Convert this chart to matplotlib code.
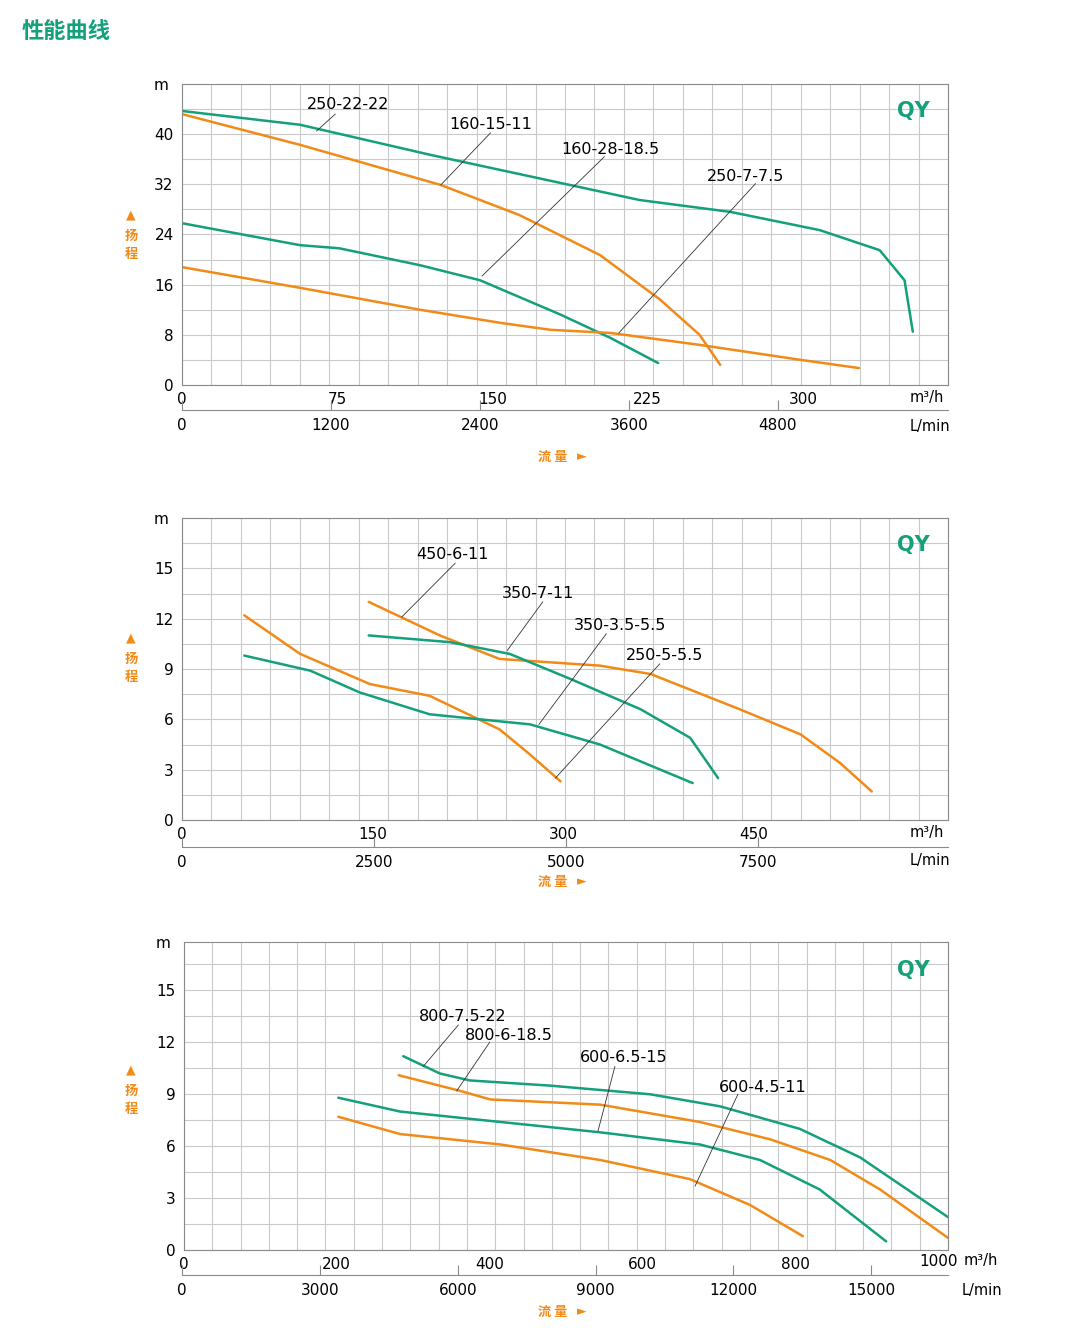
import matplotlib
matplotlib.use("Agg")
import matplotlib.pyplot as plt
import numpy as np

GREEN = "#13a07b"
ORANGE = "#f28a17"
plt.rcParams.update({"font.family": ["DejaVu Sans", "Noto Sans CJK SC"], "font.size": 10})

# ---- chart 1 data (m3/h, m)
c1_250_22_22_x = [0, 57, 120, 221, 265, 308, 337, 349, 353]
c1_250_22_22_y = [43.7, 41.5, 36.7, 29.5, 27.6, 24.7, 21.5, 16.7, 8.5]
c1_160_15_11_x = [0, 57, 125, 163, 202, 231, 250, 260]
c1_160_15_11_y = [43.2, 38.3, 31.9, 27.1, 20.7, 13.6, 8.0, 3.2]
c1_160_28_18_x = [0, 57, 76, 115, 144, 183, 207, 230]
c1_160_28_18_y = [25.8, 22.3, 21.8, 19.1, 16.7, 11.2, 7.5, 3.5]
c1_250_7_7_x = [0, 57, 115, 154, 178, 207, 250, 299, 327]
c1_250_7_7_y = [18.8, 15.5, 12.0, 9.9, 8.8, 8.3, 6.4, 4.0, 2.7]

# ---- chart 2 data
c2_250_5_x = [49, 93, 148, 195, 250, 274, 298]
c2_250_5_y = [12.2, 9.9, 8.1, 7.4, 5.4, 3.9, 2.3]
c2_350_35_x = [49, 101, 140, 195, 274, 329, 402]
c2_350_35_y = [9.8, 8.9, 7.6, 6.3, 5.7, 4.5, 2.2]
c2_450_6_x = [147, 203, 250, 329, 369, 439, 487, 518, 543]
c2_450_6_y = [13.0, 11.0, 9.6, 9.2, 8.7, 6.6, 5.1, 3.4, 1.7]
c2_350_7_x = [147, 211, 258, 306, 361, 400, 422]
c2_350_7_y = [11.0, 10.6, 9.9, 8.4, 6.6, 4.9, 2.5]

# ---- chart 3 data
c3_800_75_x = [287, 335, 374, 479, 610, 702, 806, 885, 1000]
c3_800_75_y = [11.2, 10.2, 9.8, 9.5, 9.0, 8.3, 7.0, 5.35, 1.9]
c3_800_6_x = [281, 361, 401, 545, 675, 767, 846, 911, 1000]
c3_800_6_y = [10.1, 9.2, 8.7, 8.4, 7.4, 6.4, 5.2, 3.5, 0.7]
c3_600_65_x = [202, 283, 414, 545, 675, 754, 832, 919]
c3_600_65_y = [8.8, 8.0, 7.4, 6.8, 6.1, 5.2, 3.5, 0.5]
c3_600_45_x = [202, 283, 414, 545, 662, 741, 810]
c3_600_45_y = [7.7, 6.7, 6.1, 5.2, 4.1, 2.6, 0.8]

# labels: text, text pos, leader start, leader end
c1_labels = [("250-22-22", (80, 44.7), (74, 43.2), (65, 40.5)),
             ("160-15-11", (149, 41.5), (149, 40.2), (125, 31.9)),
             ("160-28-18.5", (207, 37.6), (204, 36.4), (145, 17.4)),
             ("250-7-7.5", (272, 33.3), (277, 32.1), (211, 8.3))]
c2_labels = [("450-6-11", (213, 15.8), (215, 15.3), (173, 12.1)),
             ("350-7-11", (280, 13.5), (284, 13.0), (256, 10.1)),
             ("350-3.5-5.5", (345, 11.6), (334, 11.1), (281, 5.7)),
             ("250-5-5.5", (380, 9.8), (376, 9.3), (294, 2.5))]
c3_labels = [("800-7.5-22", (365, 13.5), (359, 13.0), (313, 10.6)),
             ("800-6-18.5", (425, 12.4), (400, 12.0), (357, 9.2)),
             ("600-6.5-15", (575, 11.1), (564, 10.6), (542, 6.9)),
             ("600-4.5-11", (758, 9.4), (725, 9.0), (669, 3.7))]

c1_xticks = [0, 75, 150, 225, 300]
c1_yticks = [0, 8, 16, 24, 32, 40]
c1_lticks = [0, 1200, 2400, 3600, 4800]
c2_xticks = [0, 150, 300, 450]
c2_yticks = [0, 3, 6, 9, 12, 15]
c2_lticks = [0, 2500, 5000, 7500]
c3_xticks = [0, 200, 400, 600, 800]
c3_yticks = [0, 3, 6, 9, 12, 15]
c3_lticks = [0, 3000, 6000, 9000, 12000, 15000]

W, H = 1077, 1331
fig = plt.figure(figsize=(W / 100, H / 100), dpi=100)


def box(x0, y0, x1, y1):
    return [x0 / W, 1 - y1 / H, (x1 - x0) / W, (y1 - y0) / H]


def panel(rect, xmax, ymax, xgrid, ygrid, xticks, yticks, curves, labels,
          lrect, lmax, lticks, unit_x, unit_y, lunit_x, lunit_y, flow_y, side_y):
    ax = fig.add_axes(box(*rect))
    ax.set_xlim(0, xmax)
    ax.set_ylim(0, ymax)
    for gx in np.linspace(0, xmax, xgrid + 1):
        ax.axvline(gx, color="#c9c9c9", lw=0.8, zorder=0)
    for gy in np.arange(0, ymax + 1e-6, ygrid):
        ax.axhline(gy, color="#c9c9c9", lw=0.8, zorder=0)
    for xs, ys, c in curves:
        ax.plot(xs, ys, color=c, lw=1.8, solid_capstyle="round", solid_joinstyle="round")
    for txt, tp, p0, p1 in labels:
        ax.text(*tp, txt, ha="center", va="center", fontsize=11.5)
        ax.plot([p0[0], p1[0]], [p0[1], p1[1]], color="#333333", lw=0.6)
    ax.text(0.955, 0.91, "QY", transform=ax.transAxes, color=GREEN,
            fontsize=15, fontweight="bold", ha="center", va="center")
    ax.set_xticks(xticks)
    ax.set_yticks(yticks)
    ax.tick_params(length=0, labelsize=11, pad=6)
    ax.tick_params(axis="x", pad=5)
    for s in ax.spines.values():
        s.set_color("#8a8a8a")
    fig.text((rect[0] - 21) / W, 1 - (rect[1] + 1) / H, "m", ha="center", va="center",
             fontsize=11)
    fig.text(unit_x, unit_y, "m³/h", fontsize=10.5, ha="left", va="center")
    # lower L/min scale
    la = fig.add_axes(box(*lrect))
    la.set_xlim(0, lmax)
    la.set_yticks([])
    for k in ("top", "left", "right"):
        la.spines[k].set_visible(False)
    la.spines["bottom"].set_color("#8a8a8a")
    la.set_xticks(lticks)
    la.tick_params(axis="x", direction="in", length=7, color="#8a8a8a", labelsize=11, pad=6)
    la.patch.set_alpha(0)
    fig.text(lunit_x, lunit_y, "L/min", fontsize=10.5, ha="left", va="center")
    fig.text(553 / W, 1 - flow_y / H, "流 量", color=ORANGE, fontsize=9.5,
             fontweight="bold", ha="center", va="center", family="Noto Sans CJK SC")
    fig.text(582 / W, 1 - flow_y / H, "►", color=ORANGE, fontsize=9,
             ha="center", va="center", family="DejaVu Sans")
    fig.text(131 / W, 1 - (side_y - 20) / H, "▲", color=ORANGE, fontsize=9,
             ha="center", va="center", family="DejaVu Sans")
    fig.text(131 / W, 1 - (side_y + 10) / H, "扬\n程", color=ORANGE, fontsize=9.5,
             fontweight="bold", ha="center", va="center", linespacing=1.3,
             family="Noto Sans CJK SC")
    return ax


fig.text(22 / W, 1 - 31 / H, "性能曲线", color=GREEN, fontsize=16, fontweight="bold",
         ha="left", va="center", family="Noto Sans CJK SC")

panel((182, 84, 948, 385), 370, 48, 26, 4, c1_xticks, c1_yticks,
      [(c1_250_22_22_x, c1_250_22_22_y, GREEN), (c1_160_15_11_x, c1_160_15_11_y, ORANGE),
       (c1_160_28_18_x, c1_160_28_18_y, GREEN), (c1_250_7_7_x, c1_250_7_7_y, ORANGE)],
      c1_labels, (182, 400, 948, 410), 6170, c1_lticks,
      910 / W, 1 - 397 / H, 910 / W, 1 - 427 / H, 457, 235)

panel((182, 518, 948, 820), 603, 18, 26, 1.5, c2_xticks, c2_yticks,
      [(c2_250_5_x, c2_250_5_y, ORANGE), (c2_350_35_x, c2_350_35_y, GREEN),
       (c2_450_6_x, c2_450_6_y, ORANGE), (c2_350_7_x, c2_350_7_y, GREEN)],
      c2_labels, (182, 837, 948, 847), 9980, c2_lticks,
      910 / W, 1 - 832 / H, 910 / W, 1 - 860 / H, 882, 658)

panel((184, 942, 948, 1250), 1000, 17.8, 27, 1.5, c3_xticks, c3_yticks,
      [(c3_800_75_x, c3_800_75_y, GREEN), (c3_800_6_x, c3_800_6_y, ORANGE),
       (c3_600_65_x, c3_600_65_y, GREEN), (c3_600_45_x, c3_600_45_y, ORANGE)],
      c3_labels, (182, 1265, 948, 1275), 16670, c3_lticks,
      964 / W, 1 - 1261 / H, 962 / W, 1 - 1291 / H, 1312, 1090)
fig.text(939 / W, 1 - 1261 / H, "1000", ha="center", va="center", fontsize=11)

fig.savefig("out.png", dpi=100)
